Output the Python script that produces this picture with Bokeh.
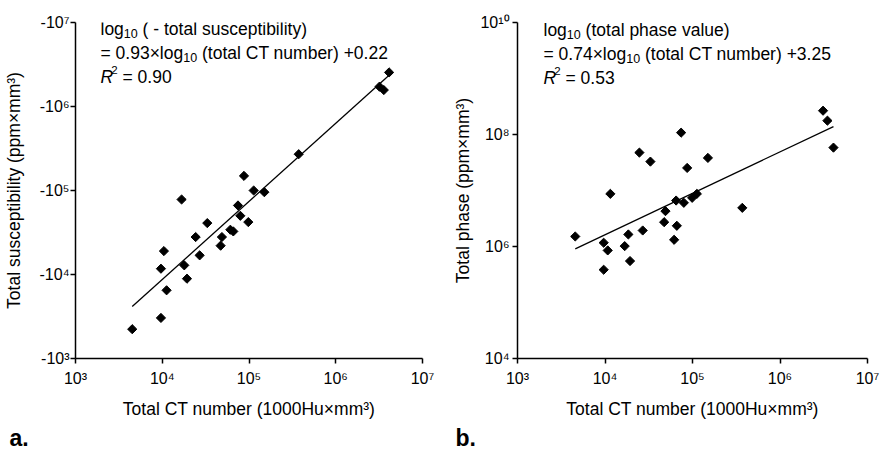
import numpy as np
from bokeh.plotting import figure
from bokeh.layouts import row
from bokeh.models import Label, Title, CustomJSTickFormatter, FixedTicker, Range1d
from bokeh.embed import file_html
from bokeh.resources import INLINE

# ---------------- data ----------------
# panel a: total CT number vs total susceptibility (negative values)
ct_a = [4508, 9661, 11220, 9661, 10450, 17950, 19280, 16710, 24270, 26980,
        33040, 47100, 48750, 60950, 65920, 74650, 79430, 87500, 98170, 113200,
        150300, 374100, 3190000, 3580000, 4120000]
susceptibility_a = [-2234, -3041, -6486, -11720, -19010, -12850, -8913, -78160, -27930, -16900,
                    -40930, -22030, -27930, -34120, -32580, -66370, -50000, -149300, -42070, -100000,
                    -95500, -270400, -1722000, -1570000, -2547000]
fit_a = {"slope": 0.93, "intercept": 0.22, "r2": "0.90"}

# panel b: total CT number vs total phase value
ct_b = [4571, 9661, 9661, 10740, 11510, 16790, 18490, 19320, 24720, 26980,
        33040, 47430, 49090, 61660, 66220, 65010, 74130, 79620, 86900, 99080,
        112200, 150000, 370700, 3105000, 3483000, 4083000]
phase_b = [1.51e6, 1.167e6, 3.846e5, 8.51e5, 8.71e6, 1.016e6, 1.641e6, 5.50e5, 4.75e7, 1.932e6,
           3.28e7, 2.72e6, 4.28e6, 1.318e6, 2.344e6, 6.62e6, 1.079e8, 6.03e6, 2.53e7, 7.40e6,
           8.71e6, 3.82e7, 4.90e6, 2.66e8, 1.766e8, 5.83e7]
fit_b = {"slope": 0.74, "intercept": 3.25, "r2": "0.53"}

x_ticks = [1e3, 1e4, 1e5, 1e6, 1e7]
y_ticks_a = [1e3, 1e4, 1e5, 1e6, 1e7]
y_ticks_b = [1e4, 1e6, 1e8, 1e10]

x_title = "Total CT number (1000Hu×mm³)"
y_title_a = "Total susceptibility (ppm×mm³)"
y_title_b = "Total phase (ppm×mm³)"
panel_letters = ["a.", "b."]

# ---------------- styling helpers ----------------
FONT = "Liberation Sans"
FS = 17.5

SUP_JS = """
const sup = {"0":"\u2070","1":"\u00b9","2":"\u00b2","3":"\u00b3","4":"\u2074",
             "5":"\u2075","6":"\u2076","7":"\u2077","8":"\u2078","9":"\u2079"};
const e = Math.round(Math.log10(Math.abs(tick)));
return prefix + "10" + String(e).split("").map(c => sup[c]).join("");
"""

# Arial / Liberation Sans advance widths (per 1000 em)
AW = {" ": 278, "(": 333, ")": 333, "-": 333, "=": 584, "+": 584, "×": 584, ".": 278,
      "a": 556, "b": 556, "c": 500, "e": 556, "g": 556, "h": 556, "i": 222, "l": 222,
      "m": 833, "n": 556, "o": 556, "p": 556, "r": 333, "s": 500, "t": 278, "u": 556,
      "v": 500, "y": 500, "C": 722, "T": 611, "R": 722}


def text_w(s, size):
    return sum(AW.get(c, 556) for c in s) / 1000.0 * size


def rich_line(p, x0, y0, segments):
    x = x0
    for txt, kind in segments:
        if kind == "sub":
            size, dy, style = 12.5, -5, "normal"
        elif kind == "sup":
            size, dy, style = 11.5, 7, "normal"
        elif kind == "italic":
            size, dy, style = FS, 0, "italic"
        else:
            size, dy, style = FS, 0, "normal"
        lead = len(txt) - len(txt.lstrip(" "))
        x += text_w(" " * lead, size)
        txt = txt.lstrip(" ")
        p.add_layout(Label(x=x, y=y0 + dy, x_units="screen", y_units="screen", text=txt,
                           text_font=FONT, text_font_size=f"{size}px", text_font_style=style,
                           text_color="black", text_baseline="alphabetic", text_align="left"))
        x += text_w(txt, size) * (0.85 if kind == "italic" else 1.0)


def make_panel(b_left, b_right, y_range, y_ticks, prefix, y_title, lab_standoff,
               title_standoff, letter, letter_offset):
    p = figure(width=440, height=453, x_axis_type="log", y_axis_type="log",
               x_range=Range1d(1e3, 1e7), y_range=y_range,
               output_backend="svg", toolbar_location=None,
               min_border_left=b_left, min_border_right=b_right,
               min_border_top=22, min_border_bottom=95,
               background_fill_color="white", border_fill_color="white")
    p.outline_line_color = None
    p.grid.visible = False
    p.xaxis.ticker = FixedTicker(ticks=x_ticks, minor_ticks=[])
    p.yaxis.ticker = FixedTicker(ticks=y_ticks, minor_ticks=[])
    p.xaxis.formatter = CustomJSTickFormatter(args=dict(prefix=""), code=SUP_JS)
    p.yaxis.formatter = CustomJSTickFormatter(args=dict(prefix=prefix), code=SUP_JS)
    for ax in (p.xaxis[0], p.yaxis[0]):
        ax.axis_line_color = "black"
        ax.axis_line_width = 1.5
        ax.major_tick_line_color = "black"
        ax.major_tick_line_width = 1.5
        ax.major_tick_out = 5
        ax.major_tick_in = 0
        ax.minor_tick_out = 0
        ax.minor_tick_in = 0
        ax.major_label_text_font = FONT
        ax.major_label_text_font_size = "16px"
        ax.major_label_text_color = "black"
        ax.axis_label_text_font = FONT
        ax.axis_label_text_font_size = f"{FS}px"
        ax.axis_label_text_font_style = "normal"
        ax.axis_label_text_color = "black"
    p.xaxis.major_label_standoff = 6
    p.xaxis.axis_label_standoff = 9
    p.yaxis.major_label_standoff = lab_standoff
    p.yaxis.axis_label_standoff = title_standoff
    p.xaxis.axis_label = x_title
    p.yaxis.axis_label = y_title
    p.add_layout(Title(text=letter, align="left", offset=letter_offset, standoff=2,
                       vertical_align="bottom",
                       text_font="Liberation Sans Narrow, Liberation Sans",
                       text_font_size="23px", text_font_style="bold", text_color="black"),
                 "below")
    return p


def add_fit(p, ct, slope, intercept):
    xs = np.array([min(ct), max(ct)], dtype=float)
    ys = 10 ** (slope * np.log10(xs) + intercept)
    p.line(xs, ys, line_color="black", line_width=1.3)


# ---------------- panel a ----------------
pa = make_panel(74, 18, Range1d(1e3, 1e7), y_ticks_a, "-", y_title_a, 1, 13,
                panel_letters[0], -66)
add_fit(pa, ct_a, fit_a["slope"], fit_a["intercept"])
pa.scatter(ct_a, [-v for v in susceptibility_a], marker="square", angle=np.pi / 4,
           size=6.5, fill_color="black", line_color="black")
rich_line(pa, 25, 330, [("log", "n"), ("10", "sub"), (" ( - total susceptibility)", "n")])
rich_line(pa, 25, 306, [(f"= {fit_a['slope']:.2f}×log", "n"), ("10", "sub"),
                        (f" (total CT number) +{fit_a['intercept']:.2f}", "n")])
rich_line(pa, 25, 282, [("R", "italic"), ("2", "sup"), (f" = {fit_a['r2']}", "n")])

# ---------------- panel b ----------------
pb = make_panel(77, 13, Range1d(1e4, 1e10), y_ticks_b, "", y_title_b, 3, 4,
                panel_letters[1], -62)
add_fit(pb, ct_b, fit_b["slope"], fit_b["intercept"])
pb.scatter(ct_b, phase_b, marker="square", angle=np.pi / 4,
           size=6.5, fill_color="black", line_color="black")
rich_line(pb, 26, 329, [("log", "n"), ("10", "sub"), (" (total phase value)", "n")])
rich_line(pb, 26, 305, [(f"= {fit_b['slope']:.2f}×log", "n"), ("10", "sub"),
                        (f" (total CT number) +{fit_b['intercept']:.2f}", "n")])
rich_line(pb, 26, 281, [("R", "italic"), ("2", "sup"), (f" = {fit_b['r2']}", "n")])

layout = row(pa, pb)
open("out.html", "w").write(file_html(layout, INLINE))
